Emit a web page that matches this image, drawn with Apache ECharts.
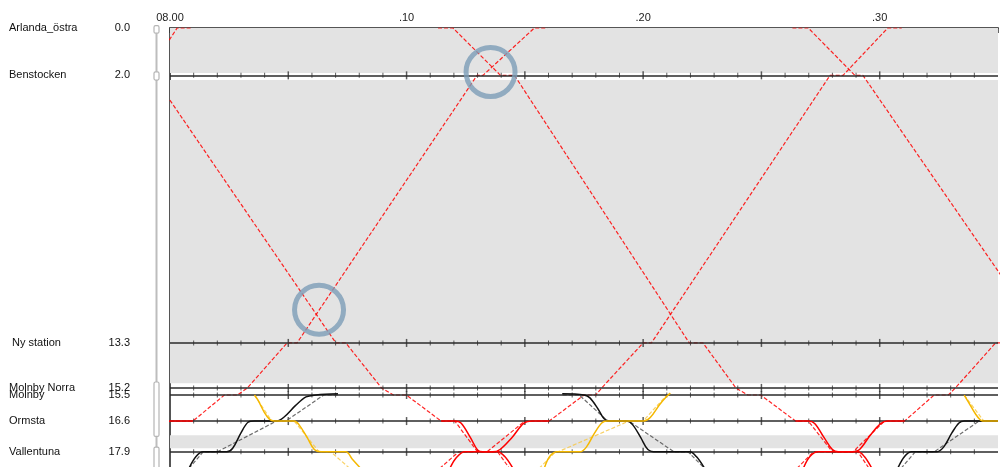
<!DOCTYPE html>
<html><head><meta charset="utf-8">
<script src="https://cdn.jsdelivr.net/npm/echarts@6/dist/echarts.min.js"></script>
<style>html,body{margin:0;padding:0;background:#fff}#c{width:1001px;height:467px}</style>
</head><body><div id="c"></div>
<script>
// ---- stations (km) ----
const stationNames = ['Arlanda_östra', 'Benstocken', ' Ny station', 'Molnby Norra', 'Molnby', 'Ormsta', 'Vallentuna'];
const stationKm = [0.0, 2.0, 13.3, 15.2, 15.5, 16.6, 17.9];
// ---- time axis (minutes after 08.00) ----
const timeLabels = {0: '08.00', 10: '.10', 20: '.20', 30: '.30'};
// ---- track layout ----
const singleTrackBands = [[0, 1.9], [2.2, 15.0], [17.2, 17.75]];
const doubleTrackBrackets = [[-0.1, 0.22], [1.85, 2.2], [14.95, 17.25], [17.7, 18.8]];
// ---- conflict markers [minute, km] ----
const conflicts = [[6.3, 11.9], [13.55, 1.86]];

// ---- red trains: planned (dashed) and realised (solid) [minute, km] ----
const redU0Plan = [[-1.0, 2.0], [0.3, 0.0], [0.92, 0.0]];
const redU1Plan = [[-1.2, 17.9], [0.0, 16.6], [0.97, 16.6], [2.3, 15.5], [2.85, 15.5], [3.27, 15.2], [4.95, 13.3], [5.37, 13.3], [12.98, 2.0], [13.23, 2.0], [15.4, 0.0], [15.95, 0.0]];
const redU1Real = [[-0.9, 17.6], [-0.45, 17.0], [-0.1, 16.65], [0.0, 16.6], [0.97, 16.6]];
const redD1Plan = [[-0.72, 2.0], [7.01, 13.3], [7.43, 13.3], [8.94, 15.2], [9.44, 15.5], [9.99, 15.5], [11.46, 16.6], [12.04, 16.6], [13.0, 17.9], [13.85, 17.9], [14.35, 18.6]];
const redD1Real = [[11.46, 16.6], [12.04, 16.6], [12.3, 16.68], [12.7, 17.3], [13.0, 17.82], [13.22, 17.9], [13.85, 17.9], [14.15, 18.1], [14.5, 18.6]];
const redD2Plan = [[11.33, 0.0], [11.96, 0.0], [13.97, 2.0], [14.56, 2.0], [21.95, 13.3], [22.53, 13.3], [23.92, 15.2], [24.42, 15.5], [24.97, 15.5], [26.44, 16.6], [26.98, 16.6], [28.0, 17.9], [29.08, 17.9], [29.55, 18.6]];
const redD2Real = [[26.44, 16.6], [26.98, 16.6], [27.25, 16.7], [27.65, 17.3], [28.0, 17.8], [28.24, 17.9], [29.08, 17.9], [29.35, 18.1], [29.67, 18.6]];
const redU2Plan = [[11.4, 18.6], [12.2, 17.9], [13.4, 17.9], [15.0, 16.6], [16.03, 16.6], [17.5, 15.5], [18.0, 15.5], [18.25, 15.2], [20.0, 13.3], [20.35, 13.3], [27.9, 2.0], [28.45, 2.0], [30.34, 0.0], [30.93, 0.0]];
const redU2Real = [[11.83, 18.6], [12.1, 18.15], [12.46, 17.9], [13.64, 17.9], [13.95, 17.8], [14.45, 17.3], [14.95, 16.7], [15.32, 16.6], [16.03, 16.6]];
const redD3Plan = [[26.31, 0.0], [26.98, 0.0], [28.95, 2.0], [29.29, 2.0], [37.1, 13.3]];
const redU3Plan = [[26.5, 18.6], [27.2, 17.9], [28.87, 17.9], [30.2, 16.6], [31.05, 16.6], [32.3, 15.5], [32.9, 15.5], [33.2, 15.2], [34.9, 13.3], [35.3, 13.3]];
const redU3Real = [[26.77, 18.6], [27.05, 18.1], [27.4, 17.9], [28.87, 17.9], [29.15, 17.8], [29.6, 17.2], [30.05, 16.7], [30.34, 16.6], [31.05, 16.6]];

// ---- black trains ----
const blackB1Plan = [[0.8, 18.6], [1.4, 17.9], [2.0, 17.9], [4.5, 16.6], [4.9, 16.6], [6.5, 15.5], [7.1, 15.5]];
const blackB1Real = [[0.8, 18.6], [1.1, 18.1], [1.4, 17.9], [2.4, 17.9], [2.65, 17.75], [3.0, 17.1], [3.3, 16.65], [3.56, 16.6], [4.49, 16.6], [4.8, 16.45], [5.3, 15.95], [5.75, 15.58], [6.17, 15.5], [7.1, 15.45]];
const blackB2Plan = [[16.6, 15.5], [17.3, 15.5], [18.5, 16.6], [19.4, 16.6], [21.3, 17.9], [21.9, 17.9], [22.6, 18.6]];
const blackB2Real = [[16.58, 15.45], [17.5, 15.5], [17.75, 15.62], [18.1, 16.1], [18.35, 16.5], [18.6, 16.6], [19.3, 16.6], [19.55, 16.75], [19.9, 17.3], [20.2, 17.8], [20.56, 17.9], [21.97, 17.9], [22.25, 18.1], [22.6, 18.6]];
const blackB3Plan = [[30.9, 18.6], [31.5, 17.9], [32.3, 17.9], [34.2, 16.6], [35.0, 16.6]];
const blackB3Real = [[30.76, 18.6], [31.05, 18.1], [31.35, 17.9], [32.4, 17.9], [32.7, 17.7], [33.05, 17.1], [33.35, 16.68], [33.57, 16.6], [35.0, 16.6]];

// ---- yellow trains ----
const yellowY1Plan = [[3.57, 15.5], [4.3, 16.6], [5.25, 16.6], [6.3, 17.9], [6.8, 17.9], [7.6, 18.6]];
const yellowY1Real = [[3.57, 15.5], [3.72, 15.72], [3.97, 16.2], [4.2, 16.52], [4.41, 16.6], [5.25, 16.6], [5.45, 16.75], [5.8, 17.3], [6.1, 17.8], [6.38, 17.9], [7.43, 17.9], [7.7, 18.2], [8.06, 18.6]];
const yellowY2Plan = [[15.6, 18.6], [16.3, 17.9], [16.4, 17.9], [19.4, 16.6], [20.0, 16.6], [21.0, 15.5]];
const yellowY2Real = [[15.82, 18.6], [16.05, 18.1], [16.37, 17.9], [17.33, 17.9], [17.6, 17.7], [17.95, 17.1], [18.25, 16.68], [18.46, 16.6], [20.02, 16.6], [20.3, 16.45], [20.7, 15.9], [21.0, 15.55], [21.15, 15.42]];
const yellowY3Plan = [[33.57, 15.5], [34.4, 16.6], [35.0, 16.6]];
const yellowY3Real = [[33.57, 15.5], [33.75, 15.8], [34.05, 16.3], [34.3, 16.58], [34.45, 16.6], [35.0, 16.6]];

const RED = '#ff0000', BLACK = '#111111', YELLOW = '#f5b800';
const trains = [
  {name: 'U0', plan: redU0Plan, real: null, color: RED, planColor: RED},
  {name: 'U1', plan: redU1Plan, real: redU1Real, color: RED, planColor: RED},
  {name: 'D1', plan: redD1Plan, real: redD1Real, color: RED, planColor: RED},
  {name: 'D2', plan: redD2Plan, real: redD2Real, color: RED, planColor: RED},
  {name: 'U2', plan: redU2Plan, real: redU2Real, color: RED, planColor: RED},
  {name: 'D3', plan: redD3Plan, real: null, color: RED, planColor: RED},
  {name: 'U3', plan: redU3Plan, real: redU3Real, color: RED, planColor: RED},
  {name: 'B1', plan: blackB1Plan, real: blackB1Real, color: BLACK, planColor: '#555555'},
  {name: 'B2', plan: blackB2Plan, real: blackB2Real, color: BLACK, planColor: '#555555'},
  {name: 'B3', plan: blackB3Plan, real: blackB3Real, color: BLACK, planColor: '#555555'},
  {name: 'Y1', plan: yellowY1Plan, real: yellowY1Real, color: YELLOW, planColor: '#f7c94a'},
  {name: 'Y2', plan: yellowY2Plan, real: yellowY2Real, color: YELLOW, planColor: '#f7c94a'},
  {name: 'Y3', plan: yellowY3Plan, real: yellowY3Real, color: YELLOW, planColor: '#f7c94a'}
];

const FONT = '"Liberation Sans", Arial, Helvetica, sans-serif';
const X_MAX = 35, Y_MAX = 18.54;

// station tick marks along each station line
const minorTicks = [], majorTicks = [];
stationKm.slice(1).forEach(k => {
  for (let m = 1; m < X_MAX; m++) {
    (m % 5 === 0 ? majorTicks : minorTicks).push([m, k]);
  }
});

const series = [];
series.push({
  type: 'line', data: [], silent: true, z: 0,
  markArea: {silent: true, itemStyle: {color: '#e3e3e3'},
    data: singleTrackBands.map(b => [{yAxis: b[0]}, {yAxis: b[1]}])}
});
series.push({
  type: 'line', data: [], silent: true, z: 1,
  markLine: {silent: true, symbol: ['none', 'none'], label: {show: false},
    lineStyle: {type: 'solid', color: '#2a2a2a', width: 1.5},
    data: stationKm.slice(1).map(k => ({yAxis: k}))}
});
series.push({type: 'scatter', data: minorTicks, symbol: 'rect', symbolSize: [1, 5], silent: true, z: 2,
  itemStyle: {color: '#333'}});
series.push({type: 'scatter', data: majorTicks, symbol: 'rect', symbolSize: [1.5, 8], silent: true, z: 2,
  itemStyle: {color: '#333'}});

trains.forEach(t => {
  series.push({name: t.name + ' plan', type: 'line', data: t.plan, symbol: 'none', showSymbol: false,
    silent: true, z: 4, color: t.planColor,
    lineStyle: {color: t.planColor, width: 1.2, type: [4, 2], opacity: 0.85}});
  if (t.real) {
    series.push({name: t.name + ' real', type: 'line', data: t.real, symbol: 'none', showSymbol: false,
      silent: true, z: 5, color: t.color, smooth: 0.35, lineStyle: {color: t.color, width: 1.5}});
  }
});

series.push({type: 'scatter', data: conflicts, symbol: 'circle', symbolSize: 49, silent: true, z: 10,
  itemStyle: {color: 'rgba(0,0,0,0)', borderColor: '#7c9cb6', borderWidth: 5}});

// left track brackets (second grid)
series.push({type: 'line', xAxisIndex: 1, yAxisIndex: 1, data: [[0.5, -0.3], [0.5, 18.8]], symbol: 'none',
  silent: true, z: 1, lineStyle: {color: '#bdbdbd', width: 2}});
series.push({type: 'custom', xAxisIndex: 1, yAxisIndex: 1, data: doubleTrackBrackets, silent: true, z: 2,
  renderItem: function (params, api) {
    const p0 = api.coord([0, api.value(0)]);
    const p1 = api.coord([1, api.value(1)]);
    return {type: 'rect', shape: {x: p0[0], y: p0[1], width: p1[0] - p0[0], height: p1[1] - p0[1], r: 1.5},
      style: {fill: '#fff', stroke: '#b5b5b5', lineWidth: 1.2}};
  }});

const chart = echarts.init(document.getElementById('c'), null, {renderer: 'canvas'});
chart.setOption({
  animation: false,
  backgroundColor: '#fff',
  textStyle: {fontFamily: FONT},
  grid: [
    {left: 170, top: 28, width: 834, height: 439},
    {left: 154, top: 28, width: 5, height: 439}
  ],
  xAxis: [{
    type: 'value', position: 'top', min: 0, max: X_MAX, interval: 5,
    axisLine: {show: true, lineStyle: {color: '#555', width: 2}},
    axisTick: {show: true, inside: true, length: 5, lineStyle: {color: '#333', width: 1.5}},
    minorTick: {show: true, splitNumber: 5, length: 3, lineStyle: {color: '#333', width: 1}},
    splitLine: {show: false},
    axisLabel: {margin: 5, fontSize: 11, color: '#222', fontFamily: FONT,
      formatter: v => (timeLabels[v] !== undefined ? timeLabels[v] : '')}
  }, {
    type: 'value', gridIndex: 1, min: 0, max: 1, show: false
  }],
  yAxis: [{
    type: 'value', min: 0, max: Y_MAX, inverse: true,
    axisLine: {show: true, lineStyle: {color: '#555', width: 2}},
    axisTick: {show: false}, splitLine: {show: false},
    axisLabel: {
      customValues: stationKm, margin: 40, fontFamily: FONT, fontSize: 11, color: '#111',
      formatter: function (v) {
        const i = stationKm.indexOf(v);
        return '{n|' + stationNames[i] + '}{v|' + v.toFixed(1) + '}';
      },
      rich: {
        n: {width: 97, align: 'left', fontSize: 11, fontFamily: FONT, color: '#111'},
        v: {width: 24, align: 'right', fontSize: 11, fontFamily: FONT, color: '#111'}
      }
    }
  }, {
    type: 'value', gridIndex: 1, min: 0, max: Y_MAX, inverse: true, show: false
  }],
  series: series
});
</script>
</body></html>
